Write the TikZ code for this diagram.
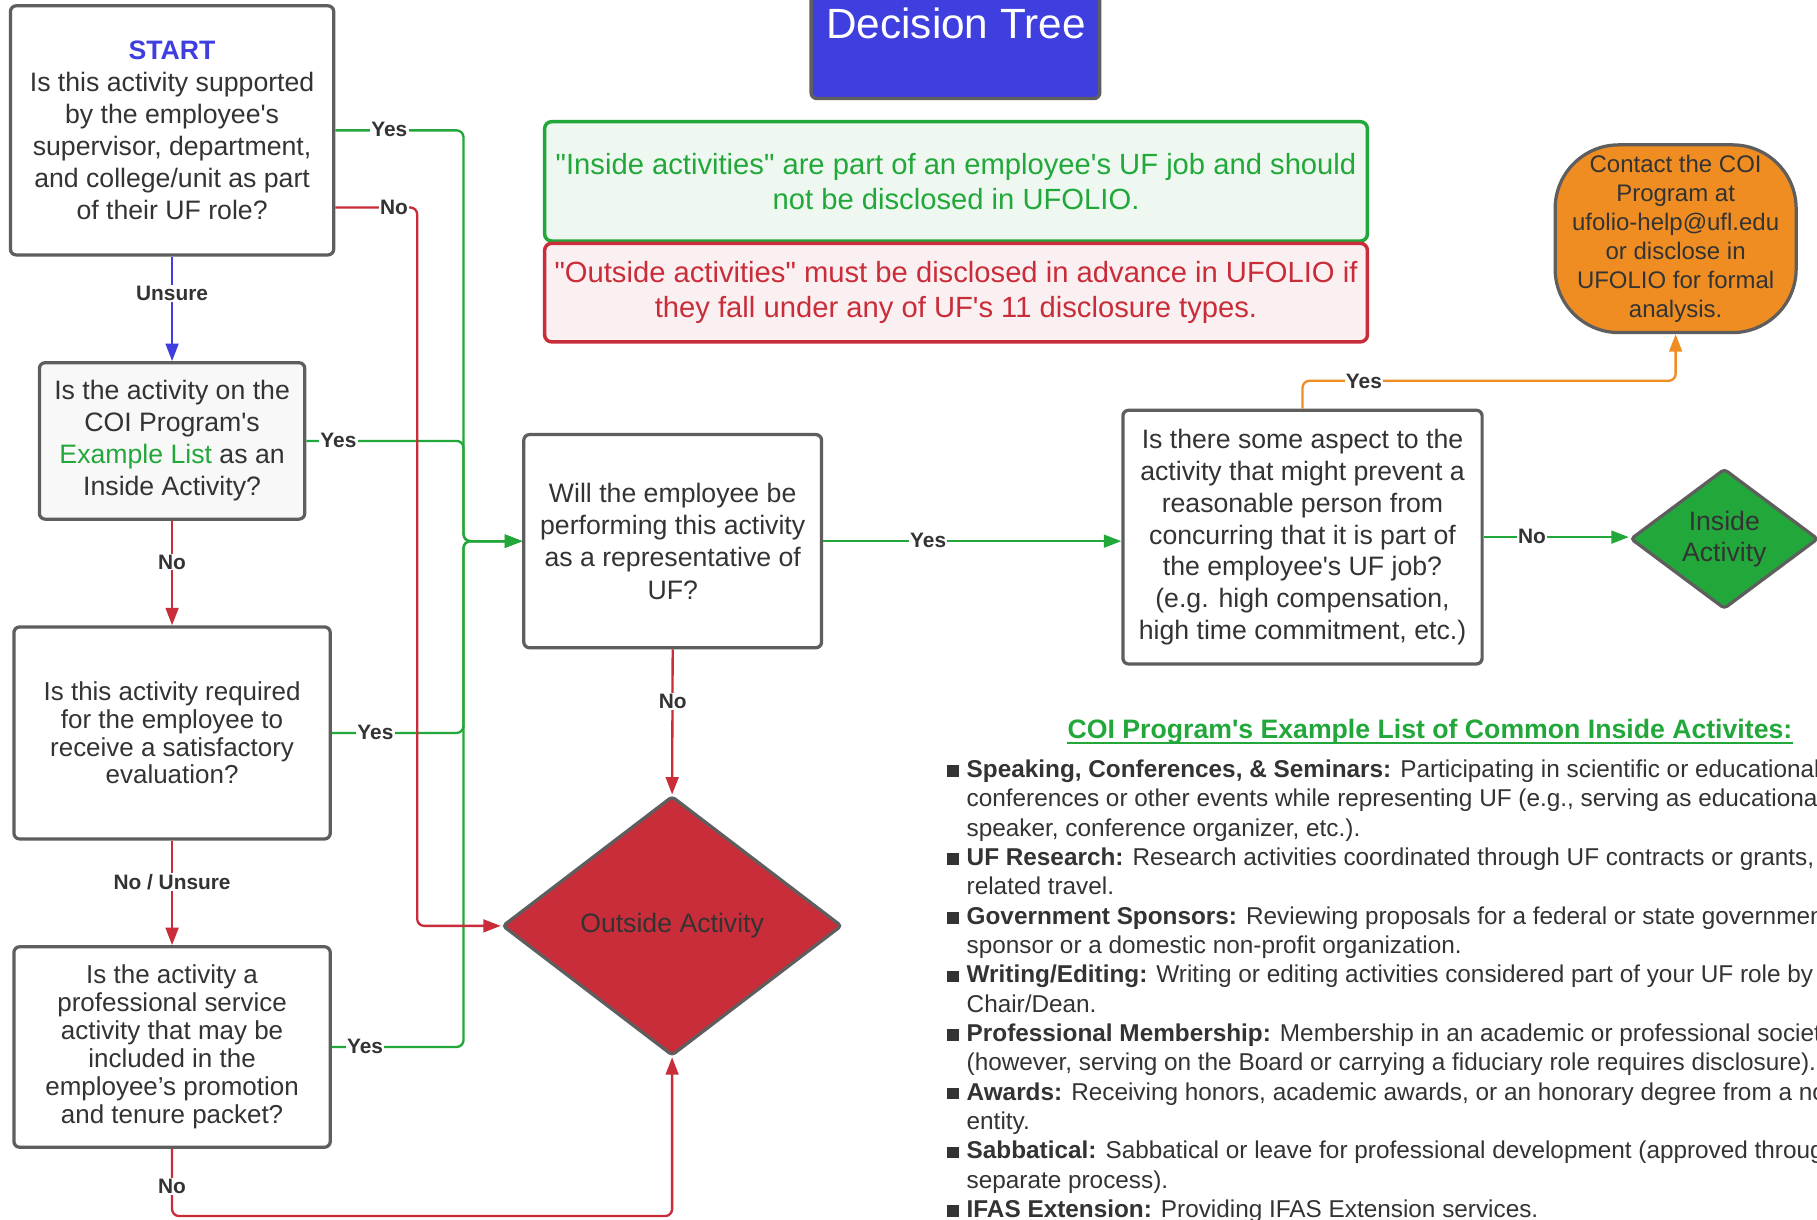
\documentclass[tikz,border=0pt]{standalone}
\usepackage{fontspec}
\newfontfamily\lsans{Liberation Sans}
\usetikzlibrary{shapes.geometric,arrows.meta,calc}
\definecolor{cgreen}{HTML}{22A83A}
\definecolor{cred}{HTML}{C92D39}
\definecolor{cblue}{HTML}{3F3FE0}
\definecolor{corange}{HTML}{EF8D22}
\definecolor{bgray}{HTML}{5E5E5E}
\definecolor{txt}{HTML}{333333}
\definecolor{gfill}{HTML}{EEF8F0}
\definecolor{rfill}{HTML}{FAEFF1}
\definecolor{lgfill}{HTML}{F8F8F8}
\newcommand\fsz[2]{\lsans\fontsize{#1}{#2}\selectfont}
\newcommand\blt{\makebox[17pt][l]{\rule[0.5pt]{10pt}{10pt}}}
\begin{document}
\begin{tikzpicture}[x=1pt,y=-1pt,
  qbox/.style={draw=bgray, line width=2.8pt, rounded corners=5pt, fill=white, text=txt, align=center, inner sep=0pt},
  diam/.style={diamond, draw=bgray, line width=2.8pt, inner sep=0pt, rounded corners=3pt, align=center, text=txt},
  infobox/.style={line width=3pt, rounded corners=6pt, align=center, inner sep=0pt, font=\fsz{25.2}{30}},
  conn/.style={line width=2pt, rounded corners=6pt},
  arr/.style={-{Triangle[length=15pt,width=11pt]}},
  gline/.style={conn, draw=cgreen, arr},
  rline/.style={conn, draw=cred, arr},
  lbl/.style={fill=white, text=txt, font=\fsz{18}{20}\bfseries, inner sep=1pt},
  listline/.style={anchor=base west, inner sep=0pt, text=txt, font=\fsz{21}{24}}
]
\useasboundingbox (0,0) rectangle (1568,1052);
\fill[white] (0,0) rectangle (1568,1052);
\clip (0,0) rectangle (1568,1052);

% title
\node[draw=bgray, fill=cblue, line width=3pt, rounded corners=5pt, minimum width=249pt, minimum height=95pt] (titlebox) at (824.5,37.5) {};
\node[text=white, font=\fsz{36.5}{40}, inner sep=0pt] (titletext) at (825,20) {Decision Tree};

% info boxes
\node[infobox, draw=cgreen, fill=gfill, text=cgreen, minimum width=710pt, minimum height=103pt] (inbox) at (825,156.5)
  {"Inside activities" are part of an employee's UF job and should\\not be disclosed in UFOLIO.};
\node[infobox, draw=cred, fill=rfill, text=cred, minimum width=710pt, minimum height=85pt] (outbox) at (825,252.5)
  {"Outside activities" must be disclosed in advance in UFOLIO if\\they fall under any of UF's 11 disclosure types.};

% terminator
\node[draw=bgray, fill=corange, line width=2.8pt, rounded corners=55pt, minimum width=208pt, minimum height=162pt, align=center, text=txt, inner sep=0pt, font=\fsz{20.7}{25}] (term) at (1446,206)
  {Contact the COI\\Program at\\ufolio-help@ufl.edu\\or disclose in\\UFOLIO for formal\\analysis.};

% question boxes
\node[qbox, minimum width=279pt, minimum height=215pt, font=\fsz{23}{27.5}] (start) at (148.5,112.5)
  {{\color{cblue}\bfseries START}\\Is this activity supported\\by the employee's\\supervisor, department,\\and college/unit as part\\of their UF role?};
\node[qbox, fill=lgfill, minimum width=229pt, minimum height=135pt, font=\fsz{23}{27.6}] (box2) at (148.5,380.5)
  {Is the activity on the\\COI Program's\\{\color{cgreen}Example List} as an\\Inside Activity?};
\node[qbox, minimum width=273pt, minimum height=183pt, font=\fsz{22.4}{24}] (box3) at (148.5,632.5)
  {Is this activity required\\for the employee to\\receive a satisfactory\\evaluation?};
\node[qbox, minimum width=273pt, minimum height=173pt, font=\fsz{22.4}{24.2}] (box4) at (148.5,903.5)
  {Is the activity a\\professional service\\activity that may be\\included in the\\employee’s promotion\\and tenure packet?};
\node[qbox, minimum width=257pt, minimum height=184pt, font=\fsz{23}{28}] (box5) at (580.5,467)
  {Will the employee be\\performing this activity\\as a representative of\\UF?};
\node[qbox, minimum width=310pt, minimum height=219pt, font=\fsz{23}{27.6}] (box6) at (1124,463.5)
  {Is there some aspect to the\\activity that might prevent a\\reasonable person from\\concurring that it is part of\\the employee's UF job?\\(e.g. high compensation,\\high time commitment, etc.)};

% outcome diamonds
\node[diam, fill=cred, minimum width=293pt, minimum height=224pt, font=\fsz{23}{27}] (outside) at (580,799) {Outside Activity};
\node[diam, fill=cgreen, aspect=1.3, minimum width=162pt, minimum height=121pt, font=\fsz{23}{27}] (inside) at (1488,465) {Inside\\Activity};

% junction points
\coordinate (jx) at (400,467);
\coordinate (rx) at (360,799);

% green connectors
\draw[gline] (start.east) -| (jx) -- (box5.west);
\draw[gline] (box2.east) -| (jx) -- (box5.west);
\draw[gline] (box3.east) -| (jx) -- (box5.west);
\draw[gline] (box4.east) -| (jx) -- (box5.west);
\draw[gline] (box5.east) -- (box5.east -| box6.west);
\draw[gline] (box6.east) -- (box6.east -| inside.west);
% blue
\draw[conn, draw=cblue, arr] (start.south) -- (box2.north);
% orange
\draw[conn, draw=corange, arr] (box6.north) -- ++(0,-24) -| (term.south);
% red connectors
\draw[rline] ($(start.east)+(0,66.5)$) -| (rx) -- (outside.west);
\draw[rline] (box2.south) -- (box3.north);
\draw[rline] (box3.south) -- (box4.north);
\draw[rline] (box4.south) -- ++(0,58) -| (outside.south);
\draw[rline] (box5.south) -- (outside.north);

% labels
\node[lbl] (l-sy) at (336,112) {Yes};
\node[lbl] (l-sn) at (340,179) {No};
\node[lbl] (l-su) at (148.5,253) {Unsure};
\node[lbl] (l-2y) at (292,380) {Yes};
\node[lbl] (l-2n) at (148.5,485) {No};
\node[lbl] (l-3y) at (324,632) {Yes};
\node[lbl] (l-3n) at (148.5,761) {No / Unsure};
\node[lbl] (l-4y) at (315,903) {Yes};
\node[lbl] (l-4n) at (148.5,1024) {No};
\node[lbl] (l-5n) at (580.5,605) {No};
\node[lbl] (l-5y) at (801,466) {Yes};
\node[lbl] (l-6y) at (1177,329) {Yes};
\node[lbl] (l-6n) at (1322,463) {No};

% example list
\node[anchor=base, inner sep=0pt, text=cgreen, font=\fsz{23}{26}\bfseries] (listtitle) at (1234,637) {COI Program's Example List of Common Inside Activites:};
\draw[cgreen, line width=1.8pt] ($(listtitle.base west)+(0,4)$) -- ($(listtitle.base east)+(0,4)$);
\node[listline] (li1) at (817,671.0) {\blt\textbf{Speaking, Conferences, \& Seminars:} Participating in scientific or educational};
\node[listline] (li2) at (817,696.3) {\hspace*{17pt}conferences or other events while representing UF (e.g., serving as educational};
\node[listline] (li3) at (817,721.6) {\hspace*{17pt}speaker, conference organizer, etc.).};
\node[listline] (li4) at (817,746.9) {\blt\textbf{UF Research:} Research activities coordinated through UF contracts or grants,};
\node[listline] (li5) at (817,772.2) {\hspace*{17pt}related travel.};
\node[listline] (li6) at (817,797.5) {\blt\textbf{Government Sponsors:} Reviewing proposals for a federal or state government};
\node[listline] (li7) at (817,822.8) {\hspace*{17pt}sponsor or a domestic non-profit organization.};
\node[listline] (li8) at (817,848.1) {\blt\textbf{Writing/Editing:} Writing or editing activities considered part of your UF role by};
\node[listline] (li9) at (817,873.4) {\hspace*{17pt}Chair/Dean.};
\node[listline] (li10) at (817,898.7) {\blt\textbf{Professional Membership:} Membership in an academic or professional society};
\node[listline] (li11) at (817,924.0) {\hspace*{17pt}(however, serving on the Board or carrying a fiduciary role requires disclosure).};
\node[listline] (li12) at (817,949.3) {\blt\textbf{Awards:} Receiving honors, academic awards, or an honorary degree from a non-profit};
\node[listline] (li13) at (817,974.6) {\hspace*{17pt}entity.};
\node[listline] (li14) at (817,999.9) {\blt\textbf{Sabbatical:} Sabbatical or leave for professional development (approved through a};
\node[listline] (li15) at (817,1025.2) {\hspace*{17pt}separate process).};
\node[listline] (li16) at (817,1050.5) {\blt\textbf{IFAS Extension:} Providing IFAS Extension services.};
\end{tikzpicture}
\end{document}
